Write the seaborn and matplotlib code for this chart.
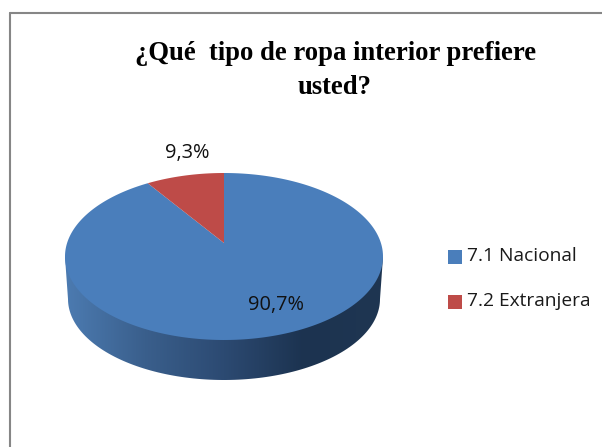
import numpy as np
import matplotlib
matplotlib.use('Agg')
import matplotlib.pyplot as plt
from matplotlib.colors import LinearSegmentedColormap
from matplotlib.lines import Line2D
import seaborn as sns

categorias = ['7.1 Nacional', '7.2 Extranjera']
valores = [90.7, 9.3]
rotulos = ['90,7%', '9,3%']
titulo = ['¿Qué  tipo de ropa interior prefiere', 'usted?']

azul = '#4a7ebb'
vermelho = '#be4b48'

sns.set_theme(style='white')

W, H = 602, 447
fig = plt.figure(figsize=(W / 100, H / 100), dpi=100)
ax = fig.add_axes([0, 0, 1, 1])

# pizza em perspectiva: centro em (224, 243), elipse de 173 a 340 em y
cx, cy = 224, 243
c = 27 / 167
a = 70 * (1 + c)
k = 159 * np.sqrt(1 - c ** 2)


def perspectiva(v):
    esc = 1 + c * v[:, 1]
    return np.column_stack([cx + k * v[:, 0] / esc, cy - a * v[:, 1] / esc])


# lateral com degrade
degrade = LinearSegmentedColormap.from_list(
    'lado', ['#4c7bb1', '#3a5f8c', '#2c4a72', '#1c3350', '#1f3652'])
g = np.linspace(0, 1, 256).reshape(1, -1)
img = ax.imshow(g, cmap=degrade, aspect='auto', zorder=1, extent=(65, 383, 381, 257))
t = np.linspace(np.pi, 0, 120)
xs = np.concatenate([[65], 224 + 156 * np.cos(t), [383]])
ys = np.concatenate([[257], 299 + 81 * np.sin(t), [257]])
lado = plt.Polygon(np.column_stack([xs, ys]), fc='none', ec='none')
ax.add_patch(lado)
img.set_clip_path(lado)

# tampa: fatias do ax.pie levadas para a perspectiva
fatias, _ = ax.pie(valores, colors=[azul, vermelho], startangle=90,
                   counterclock=False, radius=1, frame=True)
for f in fatias:
    ang = np.radians(np.linspace(f.theta1, f.theta2, 300))
    arco = np.column_stack([f.r * np.cos(ang), f.r * np.sin(ang)])
    vertices = np.vstack([[f.center], arco])
    ax.fill(*perspectiva(vertices).T, color=f.get_facecolor(), lw=0, zorder=2)
    f.remove()

ax.set_aspect('auto')
ax.set_xlim(0, W)
ax.set_ylim(H, 0)
ax.axis('off')

ax.text(276, 305, rotulos[0], fontsize=14.4, color='#111111', zorder=4,
        ha='center', va='center', family='Open Sans')
ax.text(187, 153, rotulos[1], fontsize=14.4, color='#111111', zorder=4,
        ha='center', va='center', family='Open Sans')

ax.text(336, 54, titulo[0], fontsize=19.2, fontweight='bold',
        family='Liberation Serif', ha='center', va='center', color='black')
ax.text(335, 88, titulo[1], fontsize=19.2, fontweight='bold',
        family='Liberation Serif', ha='center', va='center', color='black')

# legenda
for nome, cor, yl in zip(categorias, [azul, vermelho], [257, 302]):
    ax.scatter([454.5], [yl], marker='s', s=98, color=cor, zorder=4, linewidths=0)
    ax.text(467, yl - 1, nome, fontsize=13.8, color='#1a1a1a', ha='left',
            va='center', family='Open Sans')

# moldura
fig.add_artist(Line2D([9.5 / W, 9.5 / W], [0, 1 - 12.5 / H], color='#868686', lw=1.5))
fig.add_artist(Line2D([9.5 / W, 1], [1 - 12.5 / H, 1 - 12.5 / H], color='#868686', lw=1.5))

fig.savefig('out.png', dpi=100, facecolor='white')
